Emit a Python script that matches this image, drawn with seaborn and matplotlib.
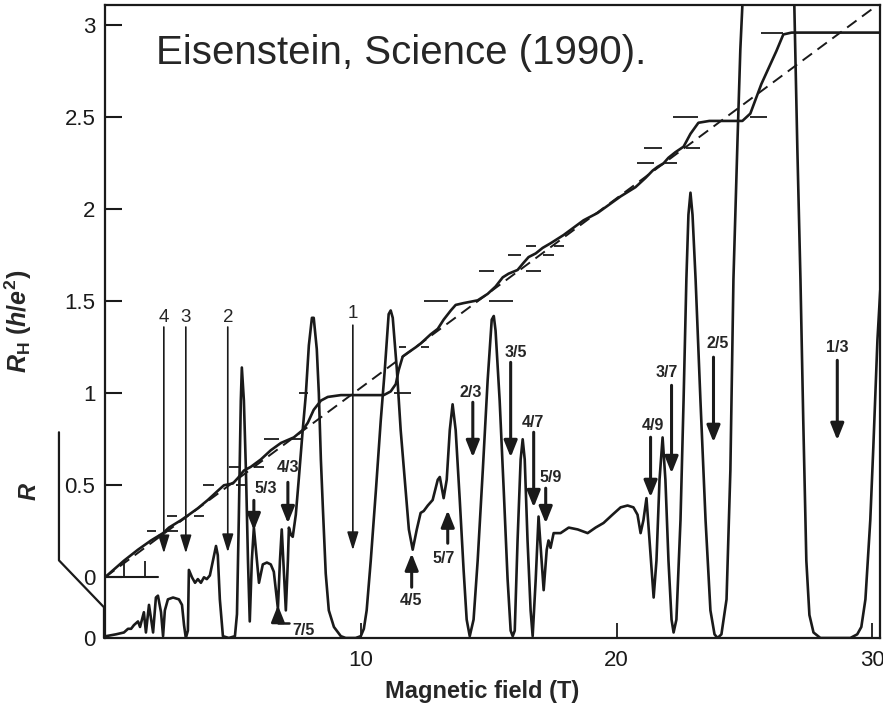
import numpy as np
import pandas as pd
import matplotlib
matplotlib.use('Agg')
import matplotlib.pyplot as plt
import seaborn as sns

# Hall resistance R_H in units of h/e^2
hall_B = [0.0, 0.74, 1.29, 1.80, 2.27, 2.50, 2.97, 3.28, 3.63, 4.02, 4.41, 4.65, 5.00, 5.20,
          5.43, 5.70, 6.09, 6.48, 6.88, 7.38, 7.73, 7.93, 8.16, 8.44, 8.71, 9.22, 10.90, 11.17,
          11.37, 11.48, 11.64, 11.84, 12.15, 12.34, 12.73, 13.01, 13.24, 13.52, 13.71, 14.02,
          14.57, 14.96, 15.27, 15.55, 15.78, 16.13, 16.37, 16.56, 16.84, 17.11, 17.42, 17.93,
          18.71, 19.26, 20.16, 20.74, 21.13, 21.41, 21.60, 21.84, 22.03, 22.30, 22.62, 22.89,
          23.20, 23.63, 24.92, 25.23, 25.66, 26.25, 26.52, 26.84, 30.31]
hall_RH = [0.0, 0.09, 0.15, 0.20, 0.24, 0.27, 0.31, 0.34, 0.375, 0.42, 0.47, 0.50, 0.51, 0.54,
           0.58, 0.60, 0.64, 0.69, 0.73, 0.76, 0.80, 0.84, 0.91, 0.96, 0.98, 0.99, 0.99, 1.01,
           1.05, 1.125, 1.20, 1.22, 1.25, 1.27, 1.32, 1.35, 1.40, 1.45, 1.48, 1.49,
           1.505, 1.54, 1.58, 1.63, 1.65, 1.67, 1.71, 1.74, 1.76, 1.79, 1.815, 1.86,
           1.94, 1.98, 2.07, 2.12, 2.17, 2.21, 2.23, 2.25, 2.28, 2.31, 2.34, 2.41,
           2.47, 2.48, 2.48, 2.52, 2.68, 2.86, 2.95, 2.96, 2.96]

# classical Hall line (dashed)
classical_B = [0.0, 30.3]
classical_RH = [0.0, 3.12]

# longitudinal resistance R (arbitrary units, same vertical scale, own zero line)
R_ZERO = -0.33
rxx_B = [0.04, 0.43, 0.74, 0.90, 1.02, 1.13, 1.29, 1.37, 1.52, 1.60, 1.72, 1.88, 1.99, 2.07,
         2.19, 2.27, 2.34, 2.46, 2.66, 2.89, 3.01, 3.09, 3.16, 3.24, 3.28, 3.40, 3.52, 3.63,
         3.75, 3.87, 3.98, 4.10, 4.22, 4.34, 4.41, 4.49, 4.61, 4.84, 5.08, 5.16, 5.23, 5.31,
         5.35, 5.43, 5.51, 5.59, 5.66, 5.74, 5.82, 5.90, 6.02, 6.17, 6.33, 6.48, 6.60, 6.72,
         6.76, 6.84, 6.91, 6.99, 7.07, 7.15, 7.19, 7.27, 7.34, 7.46, 7.58, 7.73, 7.85, 7.97,
         8.09, 8.16, 8.28, 8.36, 8.44, 8.52, 8.63, 8.75, 8.95, 9.22, 9.41, 9.80, 10.00, 10.12,
         10.23, 10.39, 10.59, 10.78, 10.94, 11.09, 11.17, 11.25, 11.41, 11.56, 11.72, 11.88,
         12.03, 12.19, 12.34, 12.46, 12.62, 12.81, 13.01, 13.09, 13.24, 13.36, 13.48, 13.59,
         13.71, 13.87, 14.02, 14.14, 14.26, 14.41, 14.57, 14.77, 14.96, 15.12, 15.20, 15.27,
         15.43, 15.59, 15.74, 15.86, 15.94, 16.02, 16.13, 16.25, 16.33, 16.41, 16.52, 16.64,
         16.72, 16.84, 16.95, 17.07, 17.15, 17.27, 17.34, 17.42, 17.54, 17.81, 18.13, 18.48,
         18.87, 19.18, 19.49, 19.84, 20.16, 20.43, 20.66, 20.82, 20.94, 21.05, 21.17, 21.29,
         21.45, 21.56, 21.68, 21.80, 21.91, 22.03, 22.15, 22.23, 22.34, 22.50, 22.62, 22.73,
         22.81, 22.89, 22.97, 23.09, 23.28, 23.48, 23.67, 23.83, 23.95, 24.10, 24.30, 24.45,
         24.57, 24.73, 24.84, 24.92, 25.94, 26.95, 27.07, 27.19, 27.30, 27.42, 27.54, 27.70,
         27.97, 29.14, 29.41, 29.57, 29.73, 29.92, 30.04, 30.20, 30.31]
rxx_R = [0.01, 0.02, 0.03, 0.05, 0.05, 0.07, 0.09, 0.06, 0.14, 0.03, 0.18, 0.03, 0.22, 0.23,
         0.14, 0.01, 0.15, 0.21, 0.22, 0.21, 0.18, 0.07, 0.00, 0.04, 0.37, 0.33, 0.30, 0.32,
         0.30, 0.33, 0.32, 0.34, 0.42, 0.50, 0.45, 0.21, 0.01, 0.00, 0.01, 0.13, 0.64, 1.29,
         1.47, 1.29, 0.91, 0.42, 0.09, 0.42, 0.60, 0.48, 0.30, 0.40, 0.41, 0.40, 0.36, 0.21,
         0.16, 0.42, 0.59, 0.37, 0.15, 0.42, 0.60, 0.56, 0.55, 0.67, 0.87, 1.13, 1.32, 1.59,
         1.74, 1.74, 1.57, 1.33, 0.97, 0.70, 0.35, 0.15, 0.06, 0.01, 0.00, 0.00, 0.01, 0.05,
         0.15, 0.42, 0.80, 1.18, 1.46, 1.76, 1.78, 1.74, 1.46, 1.13, 0.86, 0.59,
         0.48, 0.59, 0.68, 0.69, 0.72, 0.75, 0.86, 0.875, 0.76, 0.86, 1.13, 1.27,
         1.13, 0.75, 0.37, 0.10, 0.01, 0.10, 0.42, 0.91, 1.40, 1.73, 1.75, 1.67,
         1.29, 0.80, 0.32, 0.04, 0.01, 0.04, 0.53, 0.97, 1.08, 0.97, 0.53, 0.15,
         0.01, 0.32, 0.66, 0.42, 0.26, 0.48, 0.53, 0.49, 0.57, 0.57, 0.60, 0.59,
         0.57, 0.60, 0.625, 0.67, 0.71, 0.72, 0.71, 0.67, 0.57, 0.64, 0.76, 0.53,
         0.22, 0.42, 0.86, 1.09, 0.86, 0.42, 0.10, 0.03, 0.10, 0.64, 1.29, 1.95,
         2.30, 2.42, 2.30, 1.95, 1.29, 0.64, 0.15, 0.02, 0.00, 0.02, 0.21, 0.91,
         1.95, 2.71, 3.20, 3.44, 5.10, 3.44, 2.65, 1.95, 1.18, 0.42, 0.125, 0.03,
         0.00, 0.00, 0.02, 0.06, 0.21, 0.64, 1.04, 1.62, 1.89]

# short horizontal markers at the quantized Hall values
dash_level = [0.25, 0.333, 0.5, 0.6, 0.75, 1.0, 1.25, 1.5, 1.667, 1.75, 1.8, 2.25, 2.333, 2.5, 2.96]
dash_left_from = [1.64, 2.42, 3.83, 4.84, 6.21, 7.58, 11.48, 12.46, 14.61, 15.74, 16.45, 20.78, 21.09, 22.19, 25.66]
dash_left_to = [1.99, 2.81, 4.26, 5.23, 6.80, 7.93, 11.76, 13.40, 15.20, 16.25, 16.84, 21.45, 21.76, 23.20, 26.52]
dash_right_from = [2.46, 3.48, 5.12, 5.82, 7.27, 11.29, 12.34, 15.00, 16.45, 17.11, 17.54, 21.91, 22.70, 25.23, np.nan]
dash_right_to = [2.85, 3.87, 5.51, 6.21, 7.73, 11.95, 12.66, 15.94, 17.03, 17.54, 17.93, 22.38, 23.25, 25.90, np.nan]

# integer filling factor arrows
int_labels = ['4', '3', '2', '1']
int_B = [2.30, 3.16, 4.80, 9.69]
int_tail = [1.36, 1.36, 1.36, 1.37]
int_tip = [0.13, 0.13, 0.136, 0.147]
int_text_y = [1.413, 1.413, 1.413, 1.435]

# fractional filling factor arrows
frac_labels = ['5/3', '4/3', '4/5', '5/7', '2/3', '3/5', '4/7', '5/9', '4/9', '3/7', '2/5', '1/3']
frac_B = [5.82, 7.15, 11.99, 13.40, 14.38, 15.86, 16.76, 17.23, 21.33, 22.15, 23.79, 28.63]
frac_tail = [0.418, 0.516, -0.054, 0.185, 0.951, 1.168, 0.788, 0.484, 0.761, 1.043, 1.196, 1.179]
frac_tip = [0.255, 0.293, 0.130, 0.364, 0.652, 0.652, 0.380, 0.293, 0.435, 0.565, 0.734, 0.745]
frac_text_B = [6.29, 7.15, 11.95, 13.24, 14.30, 16.05, 16.72, 17.42, 21.41, 21.98, 23.95, 28.63]
frac_text_y = [0.484, 0.598, -0.125, 0.103, 1.005, 1.223, 0.842, 0.543, 0.826, 1.114, 1.272, 1.25]

sns.set_theme(style='ticks')
plt.rcParams['font.family'] = ['Liberation Sans', 'DejaVu Sans']
plt.rcParams['mathtext.fontset'] = 'custom'
plt.rcParams['mathtext.it'] = 'Liberation Sans:italic:bold'
plt.rcParams['mathtext.rm'] = 'Liberation Sans:bold'
plt.rcParams['mathtext.bf'] = 'Liberation Sans:bold'

fig = plt.figure(figsize=(8.83, 7.15), dpi=100)
ax = fig.add_axes([105 / 883, 77 / 715, 775 / 883, 633 / 715])

hall = pd.DataFrame({'B': hall_B, 'RH': hall_RH})
rxx = pd.DataFrame({'B': rxx_B, 'R': np.array(rxx_R) + R_ZERO})
classical = pd.DataFrame({'B': classical_B, 'RH': classical_RH})

sns.lineplot(data=classical, x='B', y='RH', color='k', lw=1.4, linestyle=(0, (6, 3.5)),
             sort=False, estimator=None, ax=ax)
sns.lineplot(data=hall, x='B', y='RH', color='k', lw=1.9, sort=False, estimator=None, ax=ax)
sns.lineplot(data=rxx, x='B', y='R', color='k', lw=1.9, sort=False, estimator=None, ax=ax)

# plateau markers
ax.hlines(dash_level, dash_left_from, dash_left_to, color='k', lw=1.3)
ax.hlines(dash_level, dash_right_from, dash_right_to, color='k', lw=1.3)

# zero line of R_H with its little ticks
ax.plot([0, 2.07], [0, 0], color='k', lw=1.5)
ax.vlines([0.74, 1.56], 0, 0.09, color='k', lw=1.3)

for lab, b, t0, t1, ty in zip(int_labels, int_B, int_tail, int_tip, int_text_y):
    ax.annotate('', xy=(b, t1), xytext=(b, t0),
                arrowprops=dict(arrowstyle='-|>,head_length=0.55,head_width=0.17', lw=1.2,
                                color='k', shrinkA=0, shrinkB=0, mutation_scale=20))
    ax.text(b, ty, lab, ha='center', va='center', fontsize=13.5)

for lab, b, t0, t1, tb, ty in zip(frac_labels, frac_B, frac_tail, frac_tip, frac_text_B, frac_text_y):
    ax.annotate('', xy=(b, t1), xytext=(b, t0),
                arrowprops=dict(arrowstyle='-|>,head_length=0.5,head_width=0.2', lw=2.2,
                                color='k', shrinkA=0, shrinkB=0, mutation_scale=20))
    ax.text(tb, ty, lab, ha='center', va='center', fontsize=11.5, fontweight='bold')

# 7/5 arrow with its bent leader
ax.plot([7.19, 6.76, 6.76], [-0.25, -0.25, -0.21], color='k', lw=1.8)
ax.annotate('', xy=(6.76, -0.152), xytext=(6.76, -0.215),
            arrowprops=dict(arrowstyle='-|>,head_length=0.5,head_width=0.2', lw=2.0,
                            color='k', shrinkA=0, shrinkB=0, mutation_scale=20))
ax.text(7.77, -0.288, '7/5', ha='center', va='center', fontsize=11.5, fontweight='bold')

# bracket marking the R scale
ax.plot([-1.80, -1.80, -0.04, -0.04], [0.788, 0.092, -0.163, -0.33], color='k', lw=1.6,
        clip_on=False)

ax.text(2.0, 2.85, 'Eisenstein, Science (1990).', ha='left', va='center', fontsize=29)

ax.set_xlim(0, 30.3)
ax.set_ylim(-0.33, 3.11)
ax.set_xticks([10, 20, 30])
ax.set_xticklabels(['10', '20', '30'])
ax.set_yticks([-0.33, 0, 0.5, 1, 1.5, 2, 2.5, 3])
ax.set_yticklabels(['0', '0', '0.5', '1', '1.5', '2', '2.5', '3'])
ax.yaxis.get_major_ticks()[0].tick1line.set_visible(False)
ax.tick_params(axis='y', direction='in', length=12, width=1.5, pad=7, labelsize=16, colors='k')
ax.tick_params(axis='x', direction='in', length=11, width=1.3, pad=9, labelsize=16, colors='k')

for s in ax.spines.values():
    s.set_linewidth(1.6)
    s.set_color('k')

ax.set_xlabel('Magnetic field (T)', fontsize=17, fontweight='bold')
ax.xaxis.set_label_coords(0.486, -0.066)
ax.set_ylabel(r'$R_{\mathrm{H}}$ ($h/e^{2}$)', fontsize=18, fontweight='bold')
ax.yaxis.set_label_coords(-0.092, 0.5)
ax.text(-0.097, 0.231, r'$R$', transform=ax.transAxes, rotation=90, ha='center', va='center',
        fontsize=17)

fig.savefig('out.png', dpi=100, facecolor='white')
